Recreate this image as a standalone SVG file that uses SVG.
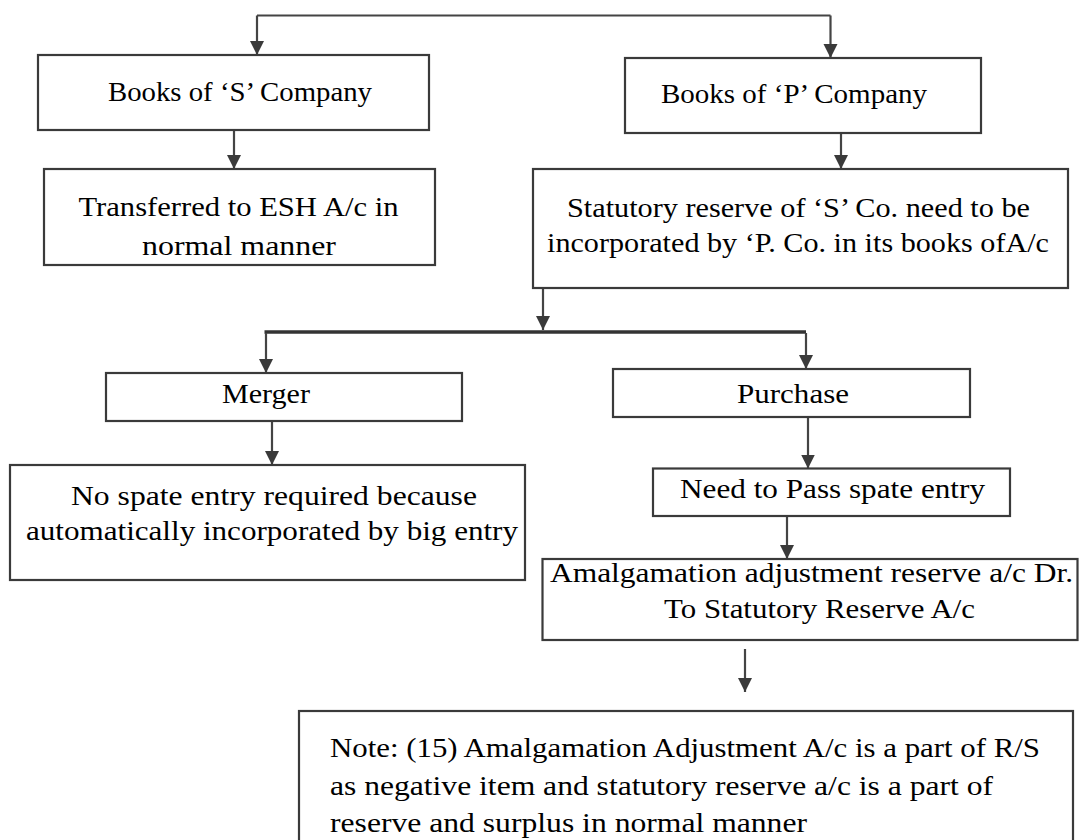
<svg xmlns="http://www.w3.org/2000/svg" width="1079" height="840" viewBox="0 0 1079 840">
<style>
.box{fill:#fff;stroke:#3a3a3a;stroke-width:2.2}
.t{font-family:"Liberation Serif","Times New Roman",serif;font-size:28px;fill:#000}
.c{fill:none;stroke:#444;stroke-width:2.2}
.bar{fill:none;stroke:#333;stroke-width:3.5}
</style>
<defs>
<marker id="ah" markerUnits="userSpaceOnUse" markerWidth="16" markerHeight="16" refX="14" refY="7" orient="auto">
<path d="M0,0 L14,7 L0,14 z" fill="#3a3a3a"/>
</marker>
</defs>
<rect width="1079" height="840" fill="#fff"/>
<g id="connectors">
<path class="c" d="M257,15.5 H830.5"/>
<path class="c" d="M257,15.5 V55" marker-end="url(#ah)"/>
<path class="c" d="M830.5,15.5 V58" marker-end="url(#ah)"/>
<path class="c" d="M234,130 V169" marker-end="url(#ah)"/>
<path class="c" d="M841,133 V169" marker-end="url(#ah)"/>
<path class="c" d="M543,288 V330" marker-end="url(#ah)"/>
<path class="bar" d="M264.5,332 H806"/>
<path class="c" d="M266,333 V373" marker-end="url(#ah)"/>
<path class="c" d="M806,333 V369" marker-end="url(#ah)"/>
<path class="c" d="M272,421 V465" marker-end="url(#ah)"/>
<path class="c" d="M808,417 V468.5" marker-end="url(#ah)"/>
<path class="c" d="M787,516 V559" marker-end="url(#ah)"/>
<path class="c" d="M745,649 V692" marker-end="url(#ah)"/>
</g>
<g id="node-s-company">
<rect class="box" x="38" y="55" width="391" height="75"/>
<text class="t" x="108" y="101" textLength="264" lengthAdjust="spacingAndGlyphs">Books of ‘S’ Company</text>
</g>
<g id="node-p-company">
<rect class="box" x="625" y="58" width="356" height="75"/>
<text class="t" x="661" y="103" textLength="266" lengthAdjust="spacingAndGlyphs">Books of ‘P’ Company</text>
</g>
<g id="node-transferred">
<rect class="box" x="44" y="169" width="391" height="96"/>
<text class="t" x="78.5" y="216" textLength="320" lengthAdjust="spacingAndGlyphs">Transferred to ESH A/c in</text>
<text class="t" x="142" y="255" textLength="194" lengthAdjust="spacingAndGlyphs">normal manner</text>
</g>
<g id="node-statutory">
<rect class="box" x="533" y="169" width="535" height="119"/>
<text class="t" x="567" y="217" textLength="463" lengthAdjust="spacingAndGlyphs">Statutory reserve of ‘S’ Co. need to be</text>
<text class="t" x="547" y="252" textLength="502" lengthAdjust="spacingAndGlyphs">incorporated by ‘P. Co. in its books ofA/c</text>
</g>
<g id="node-merger">
<rect class="box" x="106" y="373" width="356" height="48"/>
<text class="t" x="222" y="403" textLength="88" lengthAdjust="spacingAndGlyphs">Merger</text>
</g>
<g id="node-purchase">
<rect class="box" x="613" y="369" width="357" height="48"/>
<text class="t" x="737" y="403" textLength="112" lengthAdjust="spacingAndGlyphs">Purchase</text>
</g>
<g id="node-no-spate">
<rect class="box" x="10" y="465" width="515" height="115"/>
<text class="t" x="71" y="505" textLength="406" lengthAdjust="spacingAndGlyphs">No spate entry required because</text>
<text class="t" x="26" y="540" textLength="492" lengthAdjust="spacingAndGlyphs">automatically incorporated by big entry</text>
</g>
<g id="node-need-pass">
<rect class="box" x="653" y="468.5" width="357" height="47.5"/>
<text class="t" x="680" y="498" textLength="305" lengthAdjust="spacingAndGlyphs">Need to Pass spate entry</text>
</g>
<g id="node-amalgamation">
<rect class="box" x="542.5" y="559" width="535" height="81"/>
<text class="t" x="550" y="582" textLength="523" lengthAdjust="spacingAndGlyphs">Amalgamation adjustment reserve a/c Dr.</text>
<text class="t" x="664" y="618" textLength="311" lengthAdjust="spacingAndGlyphs">To Statutory Reserve A/c</text>
</g>
<g id="node-note">
<rect class="box" x="299" y="711" width="774" height="140"/>
<text class="t" x="330" y="757" textLength="710" lengthAdjust="spacingAndGlyphs">Note: (15) Amalgamation Adjustment A/c is a part of R/S</text>
<text class="t" x="330" y="795" textLength="663" lengthAdjust="spacingAndGlyphs">as negative item and statutory reserve a/c is a part of</text>
<text class="t" x="330" y="832" textLength="477" lengthAdjust="spacingAndGlyphs">reserve and surplus in normal manner</text>
</g>
</svg>
